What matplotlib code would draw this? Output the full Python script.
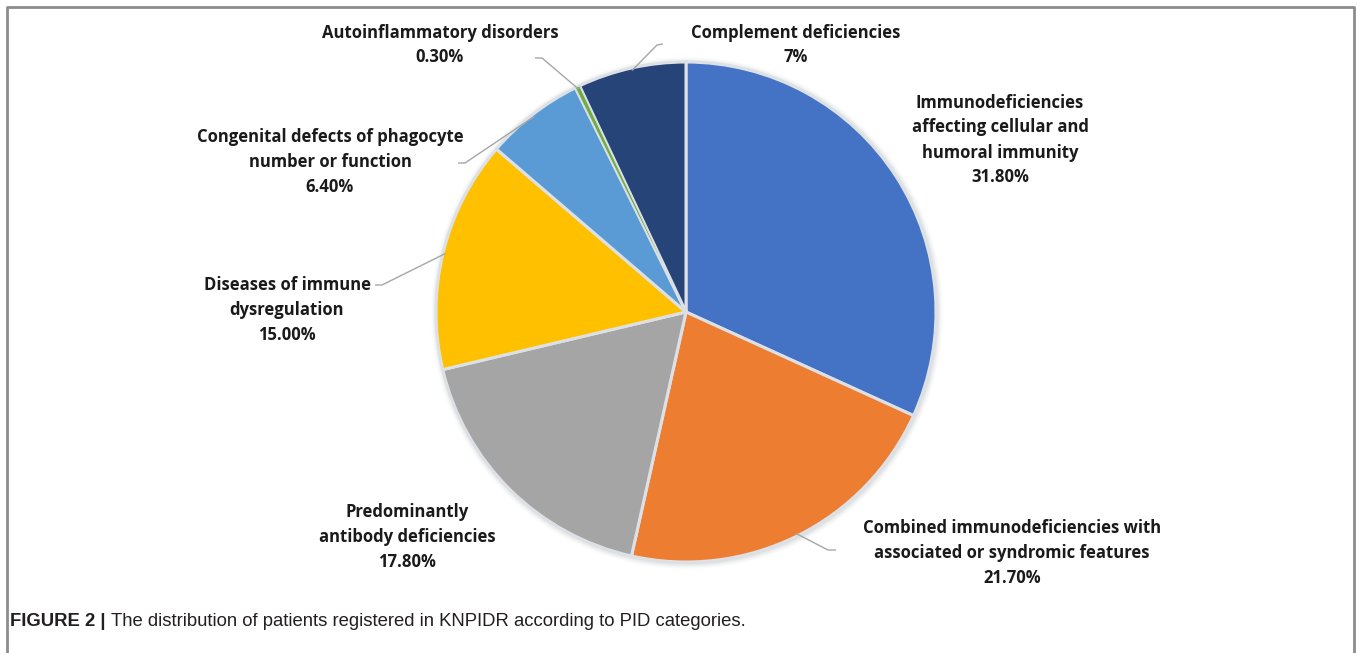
import matplotlib
matplotlib.use("Agg")
import matplotlib.pyplot as plt
import numpy as np
from matplotlib.patches import Circle

# Figure canvas in pixels
W, H = 1357, 653
DPI = 100

categories = [
    "Immunodeficiencies\naffecting cellular and\nhumoral immunity",
    "Combined immunodeficiencies with\nassociated or syndromic features",
    "Predominantly\nantibody deficiencies",
    "Diseases of immune\ndysregulation",
    "Congenital defects of phagocyte\nnumber or function",
    "Autoinflammatory disorders",
    "Complement deficiencies",
]
shares = [31.8, 21.7, 17.8, 15.0, 6.4, 0.3, 7.0]
share_text = ["31.80%", "21.70%", "17.80%", "15.00%", "6.40%", "0.30%", "7%"]
colors = ["#4472C4", "#ED7D31", "#A5A5A5", "#FFC000", "#5B9BD5", "#70AD47", "#264478"]

# Label centres (pixel space, y measured from the top)
label_xy = [(1000, 140), (1012, 553), (407, 537), (287, 310),
            (330, 162), (440, 45), (796, 45)]
# Leader polylines: (elbow, end) for labels that use one; None otherwise
leaders = [None,
           ((828, 550), (836, 550)),
           None,
           ((382, 285), (375, 285)),
           ((465, 163), (458, 163)),
           ((542, 58), (535, 58)),
           ((657, 45), (663, 44))]

CX, CY, R = 686, 312, 250


def fy(y):
    return H - y


fig = plt.figure(figsize=(W / DPI, H / DPI), dpi=DPI)
ax = fig.add_axes([0, 0, 1, 1])

# soft halo around the pie
for k, a in zip(range(6, 0, -1), [0.03, 0.04, 0.05, 0.06, 0.08, 0.10]):
    ax.add_patch(Circle((CX + 1, fy(CY) - 1), R + k, color="#9aa0a8",
                        alpha=a, lw=0, zorder=1))

wedges, _ = ax.pie(shares, colors=colors, startangle=90, counterclock=False,
                   center=(CX, fy(CY)), radius=R, frame=True,
                   wedgeprops=dict(edgecolor="#dde1e6", linewidth=2.2,
                                   zorder=2))
# keep the very thin slice visible
wedges[5].set_linewidth(0.7)
wedges[5].set_zorder(3)

ax.set_xlim(0, W)
ax.set_ylim(0, H)
ax.set_aspect("equal")
ax.axis("off")

font = dict(family=["Open Sans", "DejaVu Sans"], fontweight="bold",
            fontsize=12, color="#1a1a1a")

for w, name, pct, (lx, ly), lead in zip(wedges, categories, share_text,
                                         label_xy, leaders):
    ax.text(lx, fy(ly), f"{name}\n{pct}", ha="center", va="center",
            linespacing=1.5, zorder=5, **font)
    if lead is not None:
        mid = np.deg2rad((w.theta1 + w.theta2) / 2)
        ax_x = CX + R * 0.99 * np.cos(mid)
        ax_y = fy(CY) + R * 0.99 * np.sin(mid)
        (ex, ey), (tx, ty) = lead
        ax.plot([ax_x, ex, tx], [ax_y, fy(ey), fy(ty)], color="#a6a6a6",
                lw=1.0, zorder=4, solid_capstyle="butt")

# outer frame (open at the bottom)
frame_c = "#8c8c8c"
ax.plot([7, 7, 1354, 1354], [0, fy(7), fy(7), 0], color=frame_c, lw=2.0,
        zorder=6, clip_on=False)

# caption
cap_font = ["Liberation Sans", "DejaVu Sans"]
t1 = ax.text(10, fy(621), "FIGURE 2 | ", family=cap_font, fontweight="bold",
             fontsize=13.3, color="#231f20", va="center", ha="left")
fig.canvas.draw()
bb = t1.get_window_extent()
ax.text(bb.x1 / (fig.get_figwidth() * DPI) * W, fy(621),
        "The distribution of patients registered in KNPIDR according to PID categories.",
        family=cap_font, fontsize=13.3, color="#231f20", va="center", ha="left")

fig.savefig("out.png", dpi=DPI, facecolor="white")
